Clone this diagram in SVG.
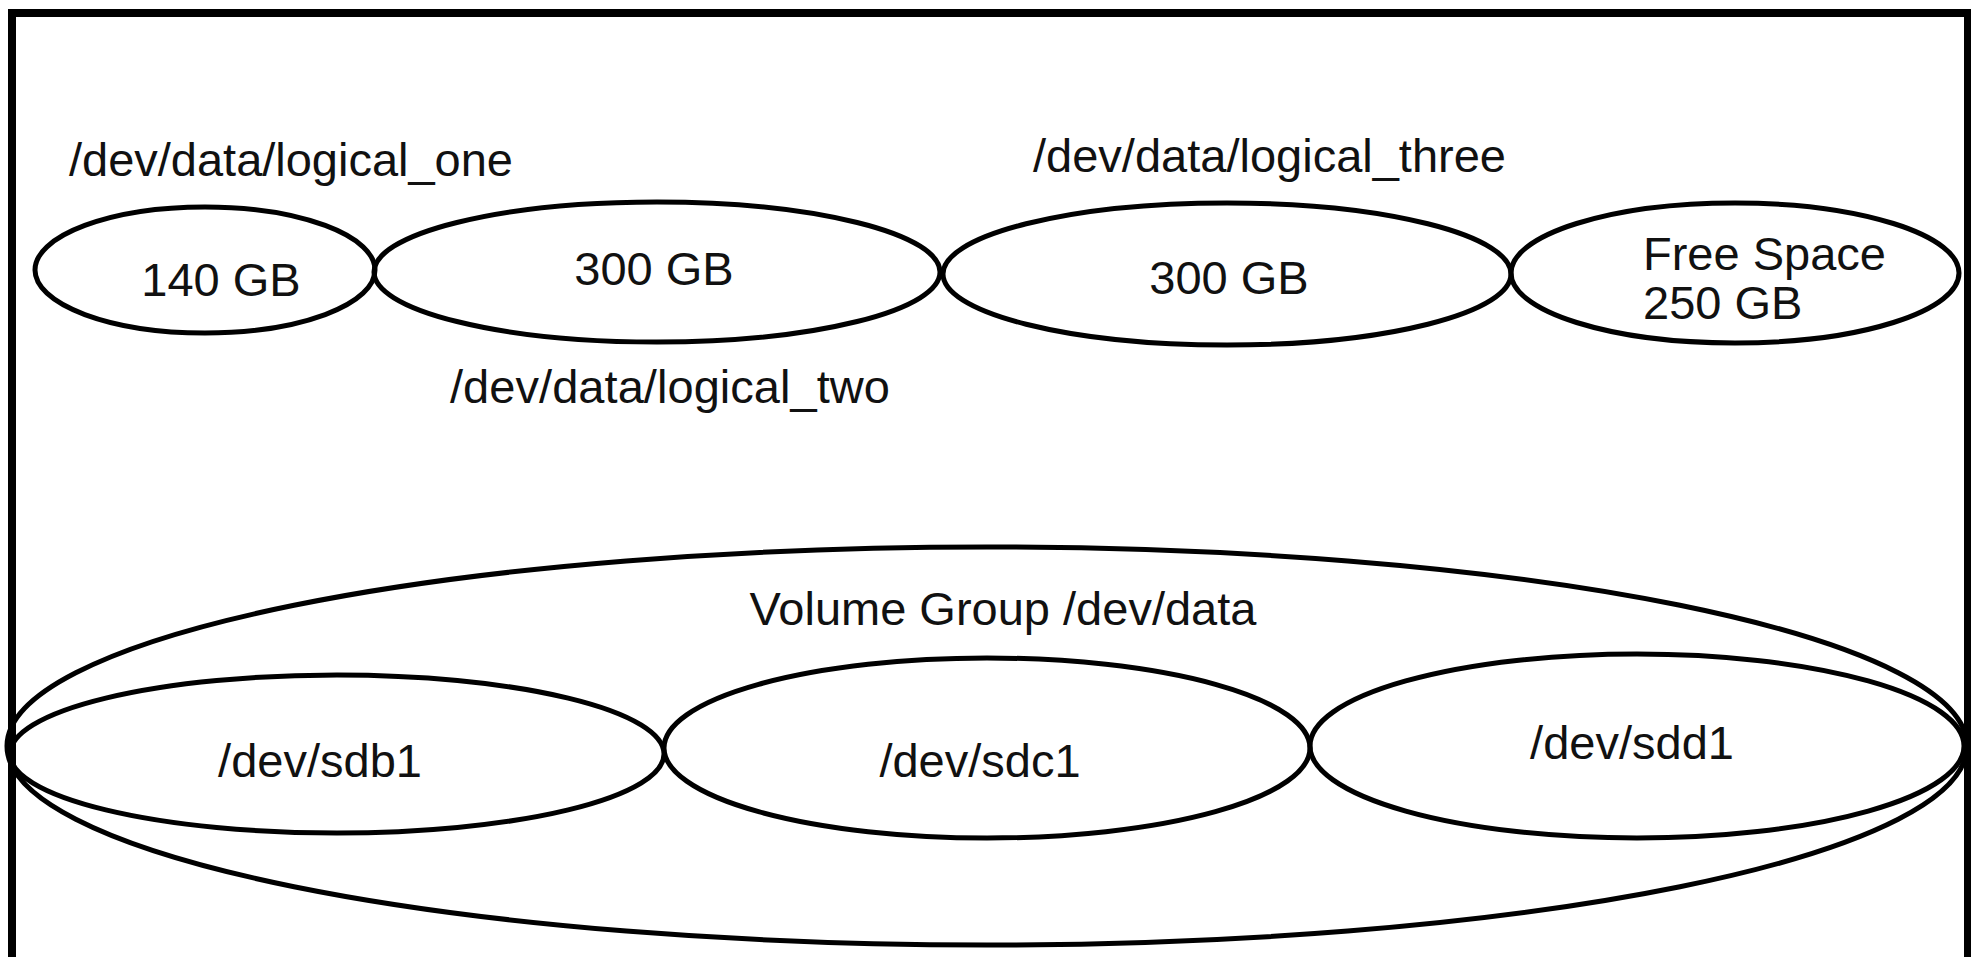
<svg xmlns="http://www.w3.org/2000/svg" width="1971" height="957" viewBox="0 0 1971 957">
<style>
.shape{fill:none;stroke:#000;stroke-width:5}
.frame{fill:none;stroke:#000;stroke-width:8}
.t{font-family:"Liberation Sans",Arial,sans-serif;font-size:47px;fill:#111}
.m{text-anchor:middle}
</style>
<rect width="1971" height="957" fill="#fff"/>
<rect class="frame" x="12" y="13" width="1956" height="1000"/>
<g id="label-logical-one"><text class="t" x="69" y="176" textLength="444">/dev/data/logical_one</text></g>
<g id="label-logical-two"><text class="t" x="450" y="403" textLength="440">/dev/data/logical_two</text></g>
<g id="label-logical-three"><text class="t" x="1033" y="172" textLength="473">/dev/data/logical_three</text></g>
<g id="lv-one"><ellipse class="shape" cx="205" cy="270" rx="170" ry="63"/><text class="t m" x="221" y="296">140 GB</text></g>
<g id="lv-two"><ellipse class="shape" cx="657" cy="272" rx="283" ry="70"/><text class="t m" x="654" y="285">300 GB</text></g>
<g id="lv-three"><ellipse class="shape" cx="1227" cy="274" rx="284" ry="71"/><text class="t m" x="1229" y="294">300 GB</text></g>
<g id="free-space"><ellipse class="shape" cx="1735" cy="273" rx="224" ry="70"/><text class="t" x="1643" y="270">Free Space</text><text class="t" x="1643" y="319">250 GB</text></g>
<g id="volume-group"><ellipse class="shape" cx="987" cy="746" rx="980" ry="199"/><text class="t m" x="1003" y="625">Volume Group /dev/data</text></g>
<g id="pv-sdb1"><ellipse class="shape" cx="337" cy="754" rx="327" ry="79"/><text class="t m" x="320" y="777">/dev/sdb1</text></g>
<g id="pv-sdc1"><ellipse class="shape" cx="987" cy="748" rx="323" ry="90"/><text class="t m" x="980" y="777">/dev/sdc1</text></g>
<g id="pv-sdd1"><ellipse class="shape" cx="1637" cy="746" rx="327" ry="92"/><text class="t m" x="1632" y="759">/dev/sdd1</text></g>
<g id="connectors"></g>
</svg>
